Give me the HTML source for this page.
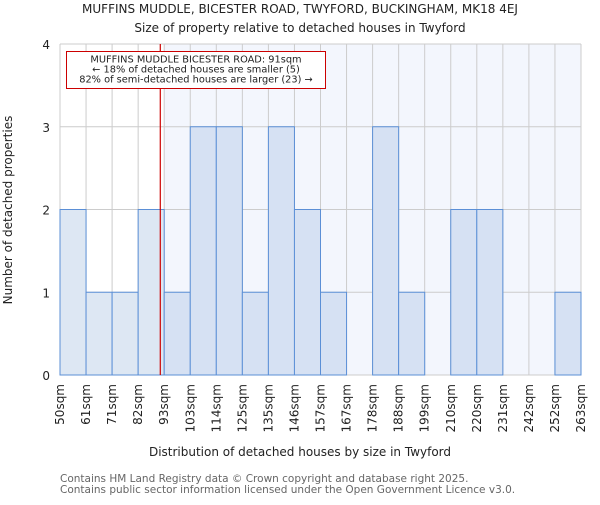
<!DOCTYPE html>
<html><head><meta charset="utf-8"><style>
body{margin:0;background:#fff}
svg{font-family:"DejaVu Sans","Liberation Sans",sans-serif}
</style></head><body>
<svg id="chart" width="600" height="500" xmlns="http://www.w3.org/2000/svg">
<text x="300" y="13" text-anchor="middle" font-size="12" fill="#222">MUFFINS MUDDLE, BICESTER ROAD, TWYFORD, BUCKINGHAM, MK18 4EJ</text>
<text x="300" y="32" text-anchor="middle" font-size="12" fill="#222">Size of property relative to detached houses in Twyford</text>
<g id="plot"></g>
<text x="300" y="456" text-anchor="middle" font-size="12" fill="#222">Distribution of detached houses by size in Twyford</text>
<text transform="translate(12,210) rotate(-90)" text-anchor="middle" font-size="12" fill="#222">Number of detached properties</text>
<text x="60" y="482" font-size="10.5" fill="#666">Contains HM Land Registry data © Crown copyright and database right 2025.</text>
<text x="60" y="493" font-size="10.5" fill="#666">Contains public sector information licensed under the Open Government Licence v3.0.</text>
</svg>
<script>
const binLabels=["50sqm","61sqm","71sqm","82sqm","93sqm","103sqm","114sqm","125sqm","135sqm","146sqm","157sqm","167sqm","178sqm","188sqm","199sqm","210sqm","220sqm","231sqm","242sqm","252sqm","263sqm"];
const counts=[2,1,1,2,1,3,3,1,3,2,1,0,3,1,0,2,2,0,0,1];
const yTicks=[0,1,2,3,4];
const propertySize=91;
const sizeMin=50, sizeMax=263;
const NS="http://www.w3.org/2000/svg";
const L=60,R=581,T=44,B=375;
const nb=counts.length, bw=(R-L)/nb;
const xB=i=>L+i*bw;
const y=v=>B-(v/4)*(B-T);
const xS=s=>L+(s-sizeMin)/(sizeMax-sizeMin)*(R-L);
const g=document.getElementById('plot');
function mk(t,a){const e=document.createElementNS(NS,t);for(const k in a)e.setAttribute(k,a[k]);g.appendChild(e);return e;}
const rx=xS(propertySize);
const hb=Math.ceil((rx-L)/bw);
const hx=xB(hb);
let e=mk('rect',{x:hx,y:T,width:R-hx,height:B-T,fill:'#f3f6fd'});


for(let i=0;i<=nb;i++){e=mk('line',{x1:xB(i),x2:xB(i),y1:T,y2:B,stroke:'#cccccc'});

}
yTicks.forEach(v=>{e=mk('line',{x1:L,x2:R,y1:y(v),y2:y(v),stroke:'#cccccc'});


e=mk('text',{x:L-10,y:y(v)+5,'text-anchor':'end','font-size':12,fill:'#222'});e.textContent=v;

});
counts.forEach((c,i)=>{if(c<=0)return;
const left=i<hb;
e=mk('rect',{x:xB(i),y:y(c),width:bw,height:B-y(c),fill:left?'#dde7f3':'#d6e1f3',stroke:'#5b8fd6','stroke-width':1});

});
binLabels.forEach((lb,i)=>{e=mk('text',{transform:`translate(${xB(i)+4},384) rotate(-90)`,'text-anchor':'end','font-size':12,fill:'#222'});e.textContent=lb;

});
e=mk('line',{x1:rx,x2:rx,y1:T,y2:B,stroke:'#cc0000','stroke-width':1.2});


e=mk('rect',{x:66.5,y:51.5,width:259,height:37,fill:'#fff',stroke:'#cc0000'});


["MUFFINS MUDDLE BICESTER ROAD: 91sqm","← 18% of detached houses are smaller (5)","82% of semi-detached houses are larger (23) →"].forEach((t,k)=>{
e=mk('text',{x:196,y:62.5+k*10,'text-anchor':'middle','font-size':9.8,fill:'#222'});e.textContent=t;

});
</script>
</body></html>
